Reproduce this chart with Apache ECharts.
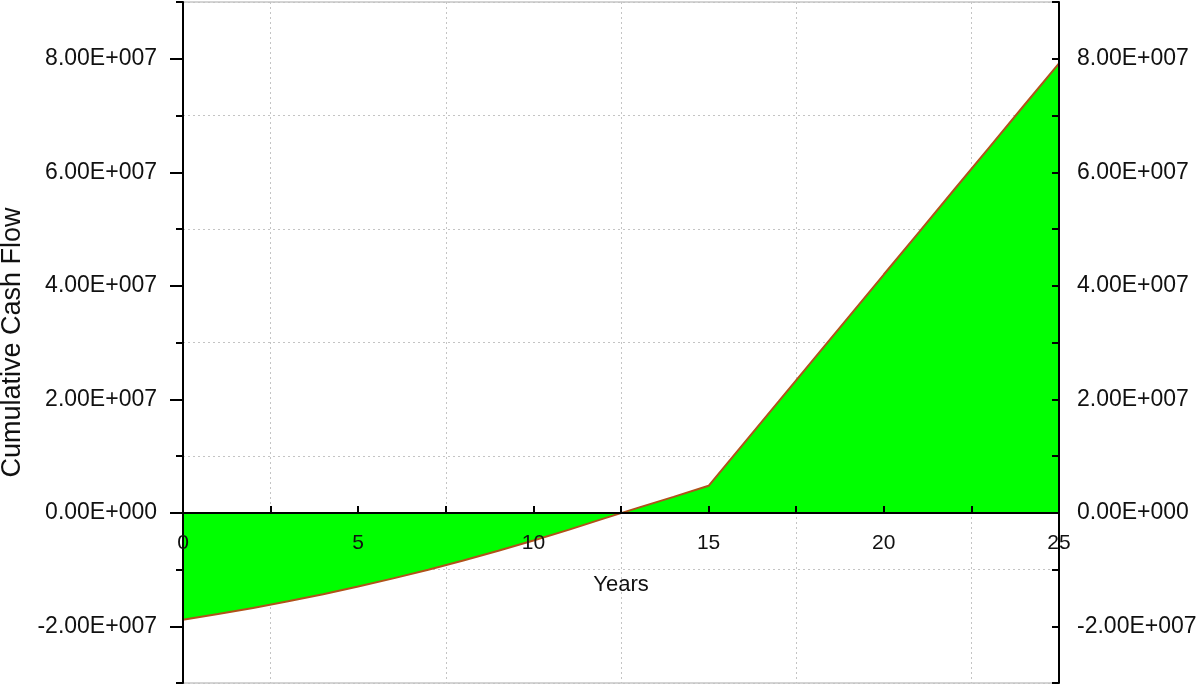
<!DOCTYPE html>
<html>
<head>
<meta charset="utf-8">
<title>Cumulative Cash Flow</title>
<script src="https://cdn.jsdelivr.net/npm/echarts@6/dist/echarts.min.js"></script>
<style>
  html, body { margin: 0; padding: 0; background: #fff; }
  #chart { width: 1200px; height: 689px; }
</style>
</head>
<body>
<div id="chart"></div>
<script>
// years and cumulative cash flow
const years = [0, 1, 2, 3, 4, 5, 6, 7, 8, 9, 10, 11, 12, 13, 14, 15, 16, 17, 18, 19, 20, 21, 22, 23, 24, 25]
const cashFlow = [
  -18850000, -17860000, -16780000, -15610000, -14350000, -13000000,
  -11560000, -10030000, -8410000, -6700000, -4900000, -3010000, -1030000,
  900000, 2800000, 4750000, 12200000, 19640000, 27090000, 34530000,
  41980000, 49420000, 56870000, 64310000, 71760000, 79200000
]

// tick labels
const xTickValues = [0, 5, 10, 15, 20, 25]
const yTickValues = [-20000000, 0, 20000000, 40000000, 60000000, 80000000]
const yTickLabels = ['-2.00E+007', '0.00E+000', '2.00E+007', '4.00E+007', '6.00E+007', '8.00E+007']

const font = 'Liberation Sans, Arial, sans-serif'
const gridColor = '#c4c4c4'

function yLabel(v) {
  let i = yTickValues.indexOf(v)
  return i >= 0 ? yTickLabels[i] : ''
}
function xLabel(v) {
  return xTickValues.indexOf(v) >= 0 ? String(v) : ''
}

const yBase = { type: 'value', min: -30000000, max: 90000000, interval: 10000000 }
const xBase = { type: 'value', min: 0, max: 25, interval: 2.5 }

const option = {
  animation: false,
  backgroundColor: '#fff',
  grid: {
    left: 183, right: 141, top: 2, bottom: 6,
    containLabel: false,
    outerBoundsMode: 'none',
    show: true, borderColor: '#a8a8a8', borderWidth: 1
  },
  xAxis: [
    { // main axis: moved up to the zero line
      ...xBase,
      position: 'bottom',
      offset: -170,
      z: 10,
      name: 'Years',
      nameLocation: 'middle',
      nameGap: 61,
      nameTextStyle: { color: '#111', fontSize: 22, fontFamily: font },
      axisLine: { onZero: false, lineStyle: { color: '#000', width: 2 } },
      axisTick: { inside: true, length: 7, lineStyle: { color: '#000', width: 2 } },
      axisLabel: { margin: 20, color: '#111', fontSize: 21, fontFamily: font, formatter: xLabel, showMinLabel: true, showMaxLabel: true },
      splitLine: { show: false }
    },
    { // grid lines only, under the fill
      ...xBase,
      position: 'top',
      z: 0,
      axisLine: { show: false },
      axisTick: { show: false },
      axisLabel: { show: false },
      splitLine: { show: true, lineStyle: { color: ['transparent', gridColor], type: [2, 3], width: 1 } }
    }
  ],
  yAxis: [
    { // left: line, minor ticks, labels
      ...yBase,
      position: 'left',
      z: 10,
      name: 'Cumulative Cash Flow',
      nameLocation: 'middle',
      nameGap: 155,
      nameTextStyle: { color: '#111', fontSize: 27, fontFamily: font },
      axisLine: { show: true, lineStyle: { color: '#000', width: 2 } },
      axisTick: { show: true, length: 7, lineStyle: { color: '#000', width: 2 } },
      axisLabel: { margin: 26, color: '#111', fontSize: 23, fontFamily: font, formatter: yLabel },
      splitLine: { show: false }
    },
    { // left: longer major ticks
      ...yBase,
      position: 'left',
      z: 10,
      axisLine: { show: false },
      axisTick: { show: true, length: 13, customValues: yTickValues, lineStyle: { color: '#000', width: 2 } },
      axisLabel: { show: false },
      splitLine: { show: false }
    },
    { // right axis, ticks inside
      ...yBase,
      position: 'right',
      z: 10,
      axisLine: { show: true, lineStyle: { color: '#000', width: 2 } },
      axisTick: { show: true, inside: true, length: 7, lineStyle: { color: '#000', width: 2 } },
      axisLabel: { margin: 18, color: '#111', fontSize: 23, fontFamily: font, formatter: yLabel },
      splitLine: { show: false }
    },
    { // grid lines only
      ...yBase,
      position: 'left',
      z: 0,
      axisLine: { show: false },
      axisTick: { show: false },
      axisLabel: { show: false },
      splitLine: { show: true, lineStyle: { color: [gridColor, 'transparent'], type: [2, 3], width: 1 } }
    }
  ],
  series: [
    {
      type: 'line',
      xAxisIndex: 0,
      yAxisIndex: 0,
      data: years.map((y, i) => [y, cashFlow[i]]),
      symbol: 'none',
      z: 5,
      lineStyle: { color: '#b0521a', width: 2 },
      areaStyle: { color: '#00ff00', opacity: 1 }
    }
  ]
}

let chart = echarts.init(document.getElementById('chart'))
chart.setOption(option)
</script>
</body>
</html>
